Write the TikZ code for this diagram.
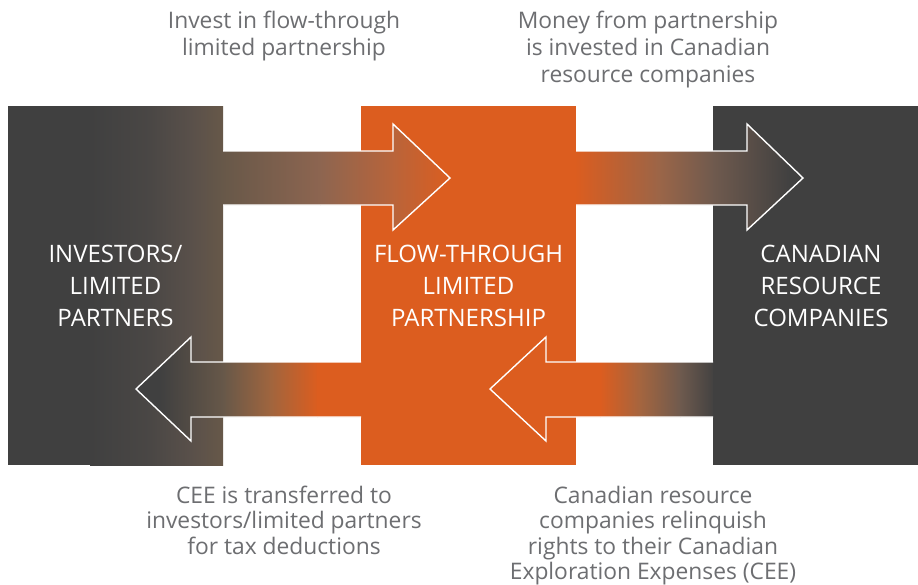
\documentclass[tikz,border=0pt]{standalone}
\usepackage{fontspec}
\setmainfont{Open Sans}
\definecolor{cdark}{HTML}{404040}
\definecolor{corange}{HTML}{DC5D1F}
\definecolor{ctext}{HTML}{6D6E71}
\definecolor{bra}{HTML}{675849}
\definecolor{brb}{HTML}{8D6550}
\definecolor{brc}{HTML}{B9643A}
\definecolor{brd}{HTML}{9A6548}
\definecolor{bre}{HTML}{6F5A4E}
\definecolor{brf}{HTML}{A0653E}
\definecolor{brg}{HTML}{A4653F}
\definecolor{brh}{HTML}{6E5A4E}
\definecolor{bri}{HTML}{4A4745}
\definecolor{brj}{HTML}{59504A}
\begin{document}
\begin{tikzpicture}[x=1pt,y=-1pt,
  box/.style={draw=none,inner sep=0pt,outer sep=0pt,minimum width=#1,minimum height=359pt},
  outline/.style={draw=white,line width=1.4pt,line join=miter},
  boxlabel/.style={text=white,align=center,inner sep=0pt,font=\fontsize{24}{32}\selectfont},
  caption/.style={text=ctext,align=center,inner sep=0pt,anchor=north,font=\fontsize{22.8}{27}\selectfont},
  lowcaption/.style={caption,font=\fontsize{22.8}{25.5}\selectfont}]
\useasboundingbox (0,0) rectangle (918,584);
\fill[white] (0,0) rectangle (918,584);
% boxes
\node[box=215pt,fill=cdark] (inv) at (115.5,285.5) {};
\node[box=215pt,fill=corange] (ftlp) at (468.5,285.5) {};
\node[box=205pt,fill=cdark] (crc) at (815.5,285.5) {};
\shade[left color=cdark,right color=bri] (90,106) rectangle (151,465);
\shade[left color=bri,right color=brj] (150,106) rectangle (191,465);
\shade[left color=brj,right color=bra] (190,106) rectangle (inv.south east);
% top-left arrow
\begin{scope}
\clip (223,151) -- (393,151) -- (393,124) -- (450,178) -- (393,230) -- (393,205) -- (223,205) -- cycle;
\shade[left color=bra,right color=brb] (222,120) rectangle (321,235);
\shade[left color=brb,right color=brc] (320,120) rectangle (394,235);
\shade[left color=brc,right color=corange] (393,120) rectangle (452,235);
\end{scope}
\draw[outline] (223,151) -- (393,151) -- (393,124) -- (450,178) -- (393,230) -- (393,205) -- (223,205);
% top-right arrow
\begin{scope}
\clip (576,151) -- (747,151) -- (747,124) -- (803,178) -- (747,230) -- (747,205) -- (576,205) -- cycle;
\shade[left color=corange,right color=brd] (575,120) rectangle (661,235);
\shade[left color=brd,right color=bre] (660,120) rectangle (714,235);
\shade[left color=bre,right color=cdark] (713,120) rectangle (791,235);
\fill[cdark] (790,120) rectangle (806,235);
\end{scope}
\draw[outline] (576,151) -- (747,151) -- (747,124) -- (803,178) -- (747,230) -- (747,205) -- (576,205);
% bottom-left arrow
\begin{scope}
\clip (361,362) -- (191,362) -- (191,337) -- (136,389) -- (191,441) -- (191,417) -- (361,417) -- cycle;
\fill[cdark] (133,330) rectangle (161,445);
\shade[left color=cdark,right color=bra] (160,330) rectangle (224,445);
\shade[left color=bra,right color=brf] (223,330) rectangle (271,445);
\shade[left color=brf,right color=corange] (270,330) rectangle (318,445);
\fill[corange] (317,330) rectangle (362,445);
\end{scope}
\draw[outline] (361,362) -- (191,362) -- (191,337) -- (136,389) -- (191,441) -- (191,417) -- (361,417);
% bottom-right arrow
\begin{scope}
\clip (713,362) -- (546,362) -- (546,337) -- (490,389) -- (546,441) -- (546,417) -- (713,417) -- cycle;
\fill[corange] (487,330) rectangle (601,445);
\shade[left color=corange,right color=brg] (600,330) rectangle (641,445);
\shade[left color=brg,right color=brh] (640,330) rectangle (681,445);
\shade[left color=brh,right color=cdark] (680,330) rectangle (716,445);
\end{scope}
\draw[outline] (713,362) -- (546,362) -- (546,337) -- (490,389) -- (546,441) -- (546,417) -- (713,417);
% labels
\node[boxlabel] (invl) at (inv.center) {INVESTORS/\\LIMITED\\PARTNERS};
\node[boxlabel] (ftlpl) at (ftlp.center) {FLOW-THROUGH\\LIMITED\\PARTNERSHIP};
\node[boxlabel] (crcl) at (821,285.5) {CANADIAN\\RESOURCE\\COMPANIES};
\node[caption] (c1) at (284,10.7) {Invest in flow-through\\limited partnership};
\node[caption] (c2) at (648,10.7) {Money from partnership\\is invested in Canadian\\resource companies};
\node[lowcaption] (c3) at (284,485.7) {CEE is transferred to\\investors/limited partners\\for tax deductions};
\node[lowcaption] (c4) at (653,485.7) {Canadian resource\\companies relinquish\\rights to their Canadian\\Exploration Expenses (CEE)};
\end{tikzpicture}
\end{document}
